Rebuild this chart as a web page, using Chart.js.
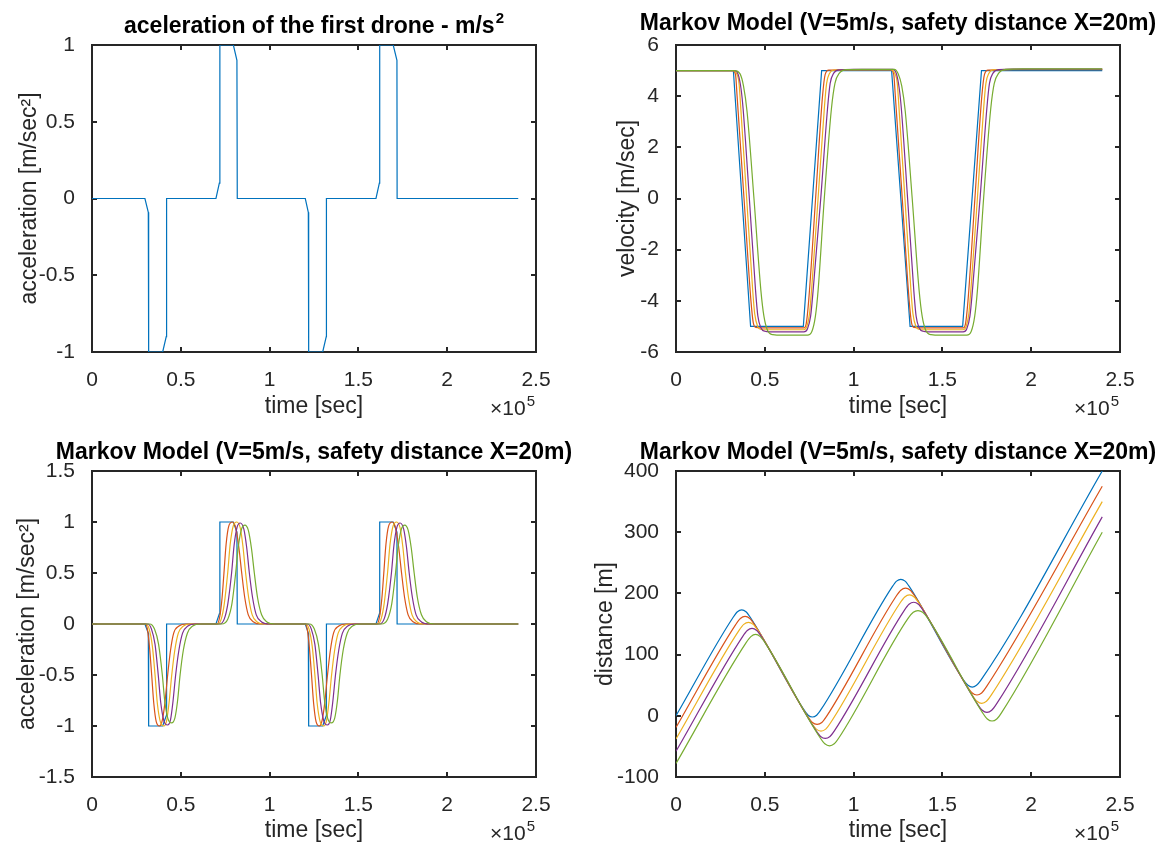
<!DOCTYPE html>
<html>
<head>
<meta charset="utf-8">
<script src="https://cdn.jsdelivr.net/npm/chart.js@4.4.1/dist/chart.umd.min.js"></script>
<style>
  html, body { margin: 0; padding: 0; background: #fff; overflow: hidden; }
  .panel { position: absolute; width: 582px; height: 424px; }
</style>
</head>
<body>
<div class="panel" style="left:0;top:0"><canvas id="accFirst" width="582" height="424"></canvas></div>
<div class="panel" style="left:582px;top:0"><canvas id="velocity" width="582" height="424"></canvas></div>
<div class="panel" style="left:0;top:424px"><canvas id="accel" width="582" height="424"></canvas></div>
<div class="panel" style="left:582px;top:424px"><canvas id="distance" width="582" height="424"></canvas></div>
<script>
// time values are in units of 1e5 sec (axis shows x10^5)
const timeTicks = [0, 0.5, 1, 1.5, 2, 2.5];
const accTicksTop = [-1, -0.5, 0, 0.5, 1];
const velTicks = [-6, -4, -2, 0, 2, 4, 6];
const accTicks = [-1.5, -1, -0.5, 0, 0.5, 1, 1.5];
const distTicks = [-100, 0, 100, 200, 300, 400];

// acceleration of drone 1 (blue), [t, a]
const accBlue = [[0,0],[0.298,0],[0.317,-0.09],[0.319,-1],[0.398,-1],[0.418,-0.9],[0.42,0],[0.698,0],[0.717,0.1],[0.72,1],[0.796,1],[0.816,0.9],[0.818,0],
  [1.201,0],[1.218,-0.09],[1.22,-1],[1.299,-1],[1.319,-0.9],[1.32,0],[1.599,0],[1.618,0.1],[1.62,1],[1.696,1],[1.717,0.9],[1.718,0],[2.4,0]];
const accRed = [[0,0],[0.30,0],[0.312,-0.05],[0.325,-0.25],[0.336,-0.5],[0.348,-0.78],[0.362,-0.96],[0.38,-1.0],[0.395,-0.95],[0.41,-0.78],[0.426,-0.5],[0.442,-0.26],[0.46,-0.09],[0.49,-0.02],[0.53,0],
  [0.705,0],[0.72,0.08],[0.732,0.25],[0.743,0.5],[0.755,0.78],[0.77,0.96],[0.79,1.0],[0.81,0.94],[0.827,0.75],[0.843,0.5],[0.86,0.26],[0.88,0.09],[0.91,0.02],[0.95,0],
  [1.2,0],[1.212,-0.05],[1.225,-0.25],[1.236,-0.5],[1.248,-0.78],[1.262,-0.96],[1.28,-1.0],[1.295,-0.95],[1.31,-0.78],[1.326,-0.5],[1.342,-0.26],[1.36,-0.09],[1.39,-0.02],[1.43,0],
  [1.605,0],[1.62,0.08],[1.632,0.25],[1.643,0.5],[1.655,0.78],[1.67,0.96],[1.69,1.0],[1.71,0.94],[1.727,0.75],[1.743,0.5],[1.76,0.26],[1.78,0.09],[1.81,0.02],[1.85,0],[2.4,0]];
const accYellow = [[0,0],[0.305,0],[0.322,-0.05],[0.34,-0.22],[0.355,-0.5],[0.368,-0.78],[0.385,-0.96],[0.405,-1.0],[0.42,-0.95],[0.434,-0.77],[0.449,-0.5],[0.466,-0.26],[0.486,-0.09],[0.515,-0.02],[0.555,0],
  [0.71,0],[0.728,0.05],[0.745,0.2],[0.764,0.5],[0.778,0.78],[0.795,0.96],[0.815,1.0],[0.835,0.94],[0.85,0.76],[0.865,0.5],[0.882,0.26],[0.902,0.09],[0.93,0.02],[0.97,0],
  [1.205,0],[1.222,-0.05],[1.24,-0.22],[1.255,-0.5],[1.268,-0.78],[1.285,-0.96],[1.305,-1.0],[1.32,-0.95],[1.334,-0.77],[1.349,-0.5],[1.366,-0.26],[1.386,-0.09],[1.415,-0.02],[1.455,0],
  [1.61,0],[1.628,0.05],[1.645,0.2],[1.664,0.5],[1.678,0.78],[1.695,0.96],[1.715,1.0],[1.735,0.94],[1.75,0.76],[1.765,0.5],[1.782,0.26],[1.802,0.09],[1.83,0.02],[1.87,0],[2.4,0]];
const accPurple = [[0,0],[0.315,0],[0.335,-0.05],[0.355,-0.2],[0.373,-0.5],[0.387,-0.77],[0.405,-0.95],[0.425,-0.99],[0.442,-0.94],[0.456,-0.76],[0.471,-0.5],[0.489,-0.26],[0.51,-0.09],[0.54,-0.02],[0.58,0],
  [0.72,0],[0.745,0.05],[0.765,0.2],[0.786,0.5],[0.80,0.77],[0.817,0.95],[0.835,0.99],[0.855,0.93],[0.871,0.75],[0.886,0.5],[0.904,0.26],[0.925,0.09],[0.955,0.02],[1.0,0],
  [1.215,0],[1.235,-0.05],[1.255,-0.2],[1.273,-0.5],[1.287,-0.77],[1.305,-0.95],[1.325,-0.99],[1.342,-0.94],[1.356,-0.76],[1.371,-0.5],[1.389,-0.26],[1.41,-0.09],[1.44,-0.02],[1.48,0],
  [1.62,0],[1.645,0.05],[1.665,0.2],[1.686,0.5],[1.70,0.77],[1.717,0.95],[1.735,0.99],[1.755,0.93],[1.771,0.75],[1.786,0.5],[1.804,0.26],[1.825,0.09],[1.855,0.02],[1.9,0],[2.4,0]];
const accGreen = [[0,0],[0.325,0],[0.352,-0.05],[0.375,-0.2],[0.396,-0.5],[0.41,-0.76],[0.428,-0.93],[0.448,-0.97],[0.467,-0.92],[0.482,-0.75],[0.496,-0.5],[0.514,-0.26],[0.537,-0.09],[0.567,-0.02],[0.61,0],
  [0.73,0],[0.765,0.05],[0.788,0.2],[0.809,0.5],[0.824,0.76],[0.842,0.93],[0.861,0.97],[0.88,0.92],[0.898,0.74],[0.914,0.5],[0.932,0.26],[0.955,0.09],[0.985,0.02],[1.03,0],
  [1.225,0],[1.252,-0.05],[1.275,-0.2],[1.296,-0.5],[1.31,-0.76],[1.328,-0.93],[1.348,-0.97],[1.367,-0.92],[1.382,-0.75],[1.396,-0.5],[1.414,-0.26],[1.437,-0.09],[1.467,-0.02],[1.51,0],
  [1.63,0],[1.665,0.05],[1.688,0.2],[1.709,0.5],[1.724,0.76],[1.742,0.93],[1.761,0.97],[1.78,0.92],[1.798,0.74],[1.814,0.5],[1.832,0.26],[1.855,0.09],[1.885,0.02],[1.93,0],[2.4,0]];

// velocity [t, v]
const velBlue = [[0,5],[0.323,5],[0.42,-5],[0.717,-5],[0.82,5],[1.214,5],[1.318,-5],[1.614,-5],[1.72,5],[2.4,5]];
const velRed = [[0,5],[0.32,5],[0.335,4.85],[0.344,4],[0.383,0],[0.422,-4],[0.435,-4.85],[0.45,-5.04],[0.5,-5.06],[0.72,-5.06],[0.733,-4.9],[0.747,-4],[0.786,0],[0.825,4],[0.84,4.85],[0.86,5.02],[0.95,5.03],
  [1.211,5.03],[1.226,4.85],[1.235,4],[1.274,0],[1.313,-4],[1.326,-4.85],[1.341,-5.04],[1.4,-5.06],[1.617,-5.06],[1.63,-4.9],[1.644,-4],[1.683,0],[1.722,4],[1.737,4.85],[1.757,5.02],[1.9,5.04],[2.4,5.04]];
const velYellow = [[0,5],[0.32,5],[0.34,4.9],[0.355,4.5],[0.364,3.6],[0.398,0],[0.432,-3.6],[0.443,-4.5],[0.46,-5.0],[0.48,-5.12],[0.51,-5.13],[0.72,-5.13],[0.737,-5.0],[0.752,-4.5],[0.763,-3.6],[0.80,0],[0.836,3.6],[0.848,4.5],[0.865,4.9],[0.89,5.02],[0.95,5.04],
  [1.211,5.04],[1.231,4.9],[1.246,4.5],[1.255,3.6],[1.289,0],[1.323,-3.6],[1.334,-4.5],[1.351,-5.0],[1.371,-5.12],[1.4,-5.13],[1.617,-5.13],[1.634,-5.0],[1.649,-4.5],[1.66,-3.6],[1.697,0],[1.733,3.6],[1.745,4.5],[1.762,4.9],[1.787,5.03],[1.9,5.05],[2.4,5.05]];
const velPurple = [[0,5],[0.33,5],[0.35,4.85],[0.366,4.3],[0.378,3.5],[0.413,0],[0.448,-3.6],[0.461,-4.6],[0.478,-5.05],[0.5,-5.19],[0.53,-5.21],[0.72,-5.21],[0.74,-5.1],[0.758,-4.6],[0.772,-3.6],[0.815,0],[0.853,3.5],[0.868,4.5],[0.888,4.9],[0.92,5.03],[1.0,5.05],
  [1.221,5.05],[1.241,4.88],[1.257,4.3],[1.269,3.5],[1.304,0],[1.339,-3.6],[1.352,-4.6],[1.369,-5.05],[1.391,-5.19],[1.42,-5.21],[1.617,-5.21],[1.637,-5.1],[1.655,-4.6],[1.669,-3.6],[1.712,0],[1.75,3.5],[1.765,4.5],[1.785,4.9],[1.817,5.04],[1.9,5.06],[2.4,5.06]];
const velGreen = [[0,5],[0.33,5],[0.36,4.88],[0.38,4.4],[0.40,3.4],[0.439,0],[0.478,-3.6],[0.495,-4.6],[0.515,-5.15],[0.545,-5.32],[0.6,-5.34],[0.74,-5.34],[0.765,-5.2],[0.785,-4.6],[0.80,-3.6],[0.835,0],[0.875,3.5],[0.895,4.5],[0.92,4.9],[0.96,5.04],[1.05,5.05],
  [1.23,5.05],[1.251,4.88],[1.271,4.4],[1.291,3.4],[1.33,0],[1.369,-3.6],[1.386,-4.6],[1.406,-5.15],[1.436,-5.32],[1.49,-5.34],[1.637,-5.34],[1.662,-5.2],[1.682,-4.6],[1.697,-3.6],[1.732,0],[1.772,3.5],[1.792,4.5],[1.817,4.9],[1.857,5.05],[1.95,5.07],[2.4,5.07]];

// distance [t, d]
const distBlue = [[0,0],[0.322,161],[0.346,170],[0.37,173],[0.394,170],[0.418,161],[0.72,10],[0.744,1],[0.768,-2],[0.792,1],[0.816,10],
  [1.218,211],[1.242,220],[1.266,223],[1.29,220],[1.314,211],[1.62,58],[1.644,50],[1.668,47],[1.692,50],[1.716,58],[2.4,400]];
const distRed = [[0,-19],[0.336,149],[0.3625,159],[0.389,162.3],[0.4155,159],[0.442,149],[0.7415,-1],[0.768,-11],[0.7945,-14],[0.821,-11],[0.8475,-1],
  [1.2395,195.3],[1.266,205.2],[1.2925,208.5],[1.319,205.2],[1.3455,195.3],[1.6415,47.3],[1.668,37.3],[1.6945,34],[1.721,37.3],[1.7475,47.3],[2.4,375]];
const distYellow = [[0,-38],[0.355,139.5],[0.3815,149.4],[0.408,152.8],[0.4345,149.4],[0.461,139.5],[0.7635,-11.8],[0.79,-21.7],[0.8165,-25],[0.843,-21.7],[0.8695,-11.8],
  [1.2615,184.3],[1.288,194.2],[1.3145,197.5],[1.341,194.2],[1.3675,184.3],[1.6687,33.7],[1.695,23.7],[1.7217,20.4],[1.748,23.7],[1.7747,33.7],[2.4,350]];
const distPurple = [[0,-58],[0.375,129.5],[0.4015,139.4],[0.428,142.8],[0.4545,139.4],[0.481,129.5],[0.7875,-23.8],[0.814,-33.7],[0.8405,-37],[0.867,-33.7],[0.8935,-23.8],
  [1.2855,172.3],[1.312,182.2],[1.3385,185.5],[1.365,182.2],[1.3915,172.3],[1.698,19],[1.7245,9],[1.751,5.7],[1.7775,9],[1.804,19],[2.4,325]];
const distGreen = [[0,-78],[0.395,119.5],[0.4215,129.4],[0.448,133],[0.4745,129.4],[0.501,119.5],[0.8115,-35.8],[0.838,-45.7],[0.8645,-49],[0.891,-45.7],[0.9175,-35.8],
  [1.3095,160.3],[1.336,169.2],[1.3625,172],[1.389,169.2],[1.4155,160.3],[1.7265,4.8],[1.753,-5.2],[1.7795,-8.5],[1.806,-5.2],[1.8325,4.8],[2.4,300]];

const COLORS = ['#0072BD', '#D95319', '#EDB120', '#7E2F8E', '#77AC30'];
const INK = '#262626';
const FONT = "'Liberation Sans', Arial, Helvetica, sans-serif";
const W = 582, H = 424;
Chart.defaults.font.family = FONT;

// draws the matlab style box, inward ticks, title and the x10^5 note
const matlabBox = {
  id: 'matlabBox',
  beforeDatasetsDraw(chart, args, o) {
    const { ctx, chartArea: a, scales: { x, y } } = chart;
    ctx.save();
    ctx.strokeStyle = INK;
    ctx.lineWidth = 2;
    ctx.strokeRect(a.left, a.top, a.right - a.left, a.bottom - a.top);
    ctx.beginPath();
    x.ticks.forEach(t => {
      const px = Math.round(x.getPixelForValue(t.value));
      ctx.moveTo(px, a.bottom); ctx.lineTo(px, a.bottom - 5);
      ctx.moveTo(px, a.top); ctx.lineTo(px, a.top + 5);
    });
    y.ticks.forEach(t => {
      const py = Math.round(y.getPixelForValue(t.value));
      ctx.moveTo(a.left, py); ctx.lineTo(a.left + 5, py);
      ctx.moveTo(a.right, py); ctx.lineTo(a.right - 5, py);
    });
    ctx.stroke();
    ctx.restore();
  },
  afterDraw(chart, args, o) {
    const { ctx, chartArea: a } = chart;
    ctx.save();
    ctx.fillStyle = '#000';
    // title, optional superscript
    const big = 'bold 23px ' + FONT, small = 'bold 15px ' + FONT;
    ctx.font = big;
    const w1 = ctx.measureText(o.title).width;
    ctx.font = small;
    const w2 = o.sup ? ctx.measureText(o.sup).width + 1 : 0;
    const x0 = (a.left + a.right) / 2 - (w1 + w2) / 2;
    const by = a.top - o.lift;
    ctx.textAlign = 'left';
    ctx.textBaseline = 'alphabetic';
    ctx.font = big;
    ctx.fillText(o.title, x0, by);
    if (o.sup) { ctx.font = small; ctx.fillText(o.sup, x0 + w1 + 1, by - 10); }
    // x10^5
    ctx.fillStyle = INK;
    ctx.font = '15px ' + FONT;
    const ws = ctx.measureText('5').width;
    ctx.fillText('5', a.right - ws - 1, a.bottom + 54);
    ctx.font = '21px ' + FONT;
    ctx.textAlign = 'right';
    ctx.fillText('\u00d710', a.right - ws - 2, a.bottom + 63);
    ctx.restore();
  }
};

function makeChart(id, p) {
  return new Chart(document.getElementById(id), {
    type: 'line',
    data: {
      datasets: p.series.map((pts, i) => ({
        data: pts.map(([x, y]) => ({ x, y })),
        borderColor: COLORS[i],
        borderWidth: 1.2,
        pointRadius: 0,
        fill: false,
        tension: 0,
        cubicInterpolationMode: (i === 0 && !p.smoothFirst) ? 'default' : 'monotone',
        order: p.series.length - i
      }))
    },
    options: {
      responsive: false,
      animation: false,
      devicePixelRatio: 1,
      events: [],
      layout: { padding: { left: 0, top: p.area.top, right: W - p.area.right, bottom: 0 } },
      plugins: {
        legend: { display: false },
        tooltip: { enabled: false },
        matlabBox: { title: p.title, sup: p.sup, lift: p.titleLift }
      },
      scales: {
        x: {
          type: 'linear', min: 0, max: 2.5,
          grid: { display: false }, border: { display: false },
          afterBuildTicks: s => { s.ticks = timeTicks.map(v => ({ value: v })); },
          afterFit: s => { s.height = H - p.area.bottom; },
          ticks: { padding: 8, font: { size: 21 }, color: INK, maxRotation: 0, autoSkip: false, callback: v => String(v) },
          title: { display: true, text: 'time [sec]', font: { size: 23 }, color: INK, padding: { top: 0, bottom: 4 } }
        },
        y: {
          type: 'linear', min: p.yTicks[0], max: p.yTicks[p.yTicks.length - 1],
          grid: { display: false }, border: { display: false },
          afterBuildTicks: s => { s.ticks = p.yTicks.map(v => ({ value: v })); },
          afterFit: s => { s.width = p.area.left; },
          ticks: { padding: 9, font: { size: 21 }, color: INK, autoSkip: false, callback: v => String(v) },
          title: { display: true, text: p.yLabel, font: { size: 23 }, color: INK, padding: { top: p.yLabelX - 13.8, bottom: 0 } }
        }
      }
    },
    plugins: [matlabBox]
  });
}

const markov = 'Markov Model (V=5m/s, safety distance X=20m)';

makeChart('accFirst', {
  series: [accBlue], yTicks: accTicksTop,
  area: { left: 92, top: 45, right: 536, bottom: 352 },
  yLabel: 'acceleration [m/sec\u00b2]', yLabelX: 30, titleLift: 12,
  title: 'aceleration of the first drone - m/s', sup: '2'
});
makeChart('velocity', {
  series: [velBlue, velRed, velYellow, velPurple, velGreen], yTicks: velTicks,
  area: { left: 94, top: 45, right: 538, bottom: 352 },
  yLabel: 'velocity [m/sec]', yLabelX: 46, title: markov, titleLift: 15
});
makeChart('accel', {
  series: [accBlue, accRed, accYellow, accPurple, accGreen], yTicks: accTicks,
  area: { left: 92, top: 47, right: 536, bottom: 353 },
  yLabel: 'acceleration [m/sec\u00b2]', yLabelX: 28, title: markov, titleLift: 12
});
makeChart('distance', {
  series: [distBlue, distRed, distYellow, distPurple, distGreen], yTicks: distTicks, smoothFirst: true,
  area: { left: 94, top: 47, right: 538, bottom: 353 },
  yLabel: 'distance [m]', yLabelX: 24, title: markov, titleLift: 12
});
</script>
</body>
</html>
